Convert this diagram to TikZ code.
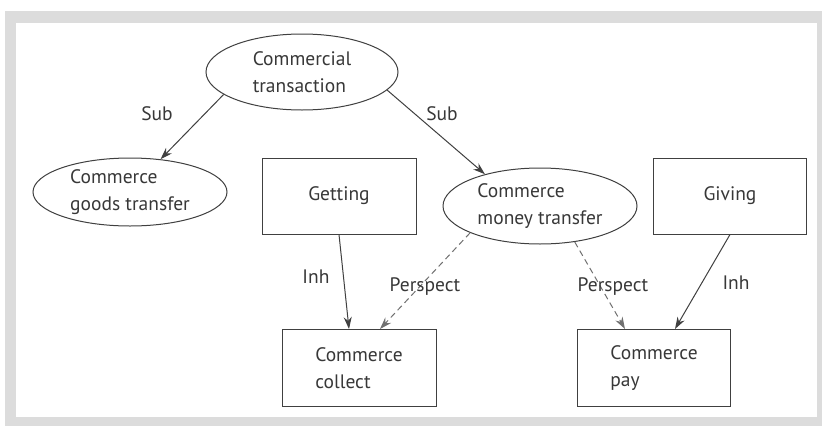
\documentclass[tikz,border=0pt]{standalone}
\usepackage{fontspec}
\setmainfont{PT Sans}
\usetikzlibrary{shapes.geometric,arrows.meta}
\definecolor{framegray}{HTML}{DCDCDC}
\definecolor{linegray}{HTML}{404040}
\definecolor{dashgray}{HTML}{707070}
\definecolor{txtgray}{HTML}{383838}
\begin{document}
\begin{tikzpicture}[x=1pt,y=-1pt,
  every node/.style={font=\fontsize{19.5}{27}\selectfont, text=txtgray},
  ell/.style={ellipse, draw=linegray, line width=1pt, inner sep=0pt, align=left},
  box/.style={rectangle, draw=linegray, line width=1pt, inner sep=0pt, align=left},
  lbl/.style={inner sep=0pt},
  rel/.style={draw=linegray, line width=1pt, -{Stealth[length=12pt,width=8pt]}},
  persp/.style={rel, draw=dashgray, dash pattern=on 6pt off 4pt}]
\useasboundingbox (0,0) rectangle (822,426);
\fill[framegray] (5,11) rectangle (822,426);
\fill[white] (16,23) rectangle (817,417);

\node[ell, minimum width=192pt, minimum height=76pt] (ct) at (302,72) {Commercial\\transaction};
\node[ell, minimum width=194pt, minimum height=68pt] (cgt) at (130,192) {Commerce\\goods transfer};
\node[ell, minimum width=194pt, minimum height=76pt] (cmt) at (540,206) {Commerce\\money transfer};
\node[box, minimum width=154pt, minimum height=76pt] (get) at (339,196) {Getting};
\node[box, minimum width=153pt, minimum height=76pt] (giv) at (730,196) {Giving};
\node[box, minimum width=154pt, minimum height=77pt] (col) at (359,368) {Commerce\\collect};
\node[box, minimum width=153pt, minimum height=77pt] (pay) at (654,368) {Commerce\\pay};

\draw[rel] (ct.196) -- (cgt.47);
\draw[rel] (ct.348) -- (cmt.150);
\draw[rel] (get.south) -- ([xshift=-10pt]col.north);
\draw[persp] (cmt.201) -- ([xshift=21pt]col.north);
\draw[persp] (cmt.314) -- ([xshift=-29pt]pay.north);
\draw[rel] (giv.south) -- ([xshift=21pt]pay.north);

\node[lbl] (l1) at (157,114) {Sub};
\node[lbl] (l2) at (442,114) {Sub};
\node[lbl] (l3) at (316,277) {Inh};
\node[lbl] (l4) at (425,287) {Perspect};
\node[lbl] (l5) at (613,287) {Perspect};
\node[lbl] (l6) at (736,283) {Inh};
\end{tikzpicture}
\end{document}
